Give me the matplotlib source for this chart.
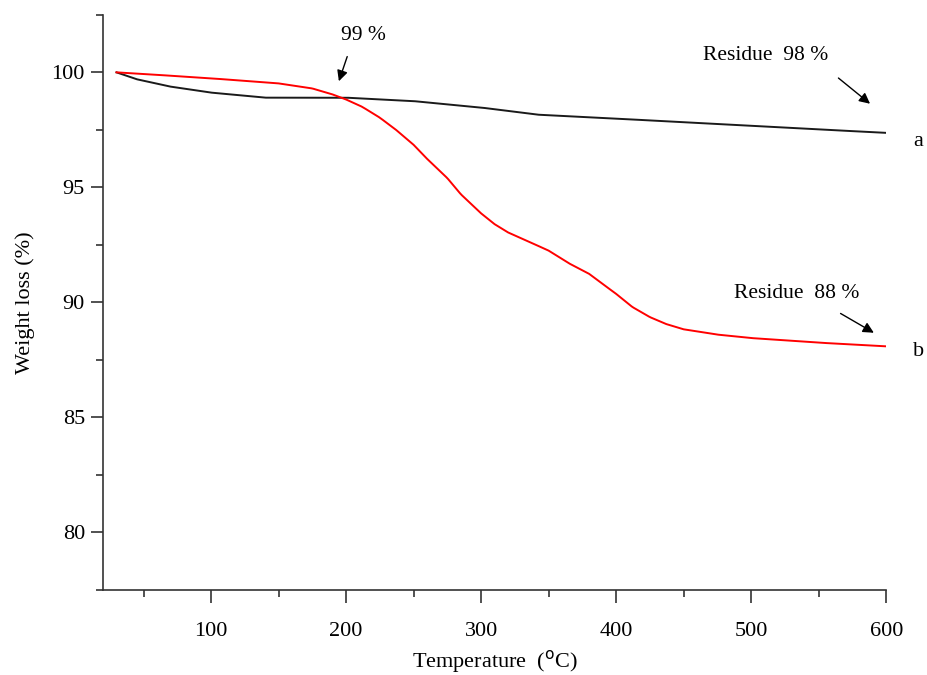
import numpy as np
import matplotlib.pyplot as plt
from matplotlib.ticker import MultipleLocator

plt.rcParams['font.family'] = ['Liberation Serif', 'DejaVu Serif']

# curve a (black)
temp_a = [30, 45, 70, 100, 140, 200, 250, 300, 342, 400, 450, 500, 550, 600]
wt_a = [100.0, 99.7, 99.38, 99.12, 98.9, 98.9, 98.75, 98.47, 98.16, 97.99, 97.83, 97.68, 97.52, 97.37]

# curve b (red)
temp_b = [30, 50, 100, 150, 175, 190, 200, 212, 225, 237, 250, 260, 275, 285, 300, 310, 320, 335, 350,
          365, 380, 390, 400, 412, 425, 437, 450, 475, 500, 550, 600]
wt_b = [100.0, 99.93, 99.74, 99.52, 99.3, 99.04, 98.82, 98.5, 98.03, 97.5, 96.85, 96.24, 95.4, 94.7, 93.87,
        93.4, 93.04, 92.65, 92.25, 91.7, 91.24, 90.8, 90.37, 89.8, 89.36, 89.06, 88.83, 88.6, 88.45, 88.25, 88.09]

fig = plt.figure(figsize=(9.28, 6.75), dpi=100)
ax = fig.add_axes([0.111, 0.126, 0.844, 0.852])

xa = np.linspace(30, 600, 300)
ax.plot(xa, np.interp(xa, temp_a, wt_a), color='#1a1a1a', lw=1.4)
xb = np.linspace(30, 600, 400)
ax.plot(xb, np.interp(xb, temp_b, wt_b), color='red', lw=1.4)

ax.set_xlim(20, 600)
ax.set_ylim(77.5, 102.5)
ax.xaxis.set_major_locator(MultipleLocator(100))
ax.xaxis.set_minor_locator(MultipleLocator(50))
ax.yaxis.set_major_locator(MultipleLocator(5))
ax.yaxis.set_minor_locator(MultipleLocator(2.5))
ax.set_yticks([80, 85, 90, 95, 100])
ax.tick_params(which='major', direction='out', length=9, width=1.2, labelsize=16, color='#333333')
ax.tick_params(which='minor', direction='out', length=5, width=1.2, color='#333333')
ax.tick_params(axis='x', pad=14)
ax.tick_params(axis='y', pad=4)

for s in ['top', 'right']:
    ax.spines[s].set_visible(False)
for s in ['left', 'bottom']:
    ax.spines[s].set_linewidth(1.2)
    ax.spines[s].set_color('#333333')

ax.set_xlabel('Temperature  ($^{\\mathrm{o}}$C)', fontsize=16, labelpad=5)
ax.set_ylabel('Weight loss (%)', fontsize=16, labelpad=12)

arw = dict(arrowstyle='-|>', color='black', lw=1.0, mutation_scale=16)
ax.annotate('', xy=(194, 99.5), xytext=(201.5, 100.8), arrowprops=arw)
ax.text(212.6, 101.6, '99 %', fontsize=15.5, ha='center', va='center')
ax.annotate('', xy=(589.6, 98.56), xytext=(563, 99.83), arrowprops=arw)
ax.text(511, 100.75, 'Residue  98 %', fontsize=15.5, ha='center', va='center')
ax.annotate('', xy=(592.6, 88.62), xytext=(564.4, 89.58), arrowprops=arw)
ax.text(534, 90.37, 'Residue  88 %', fontsize=15.5, ha='center', va='center')
ax.text(624, 97.0, 'a', fontsize=16, ha='center', va='center', clip_on=False)
ax.text(624, 87.88, 'b', fontsize=16, ha='center', va='center', clip_on=False)

fig.savefig('out.png', dpi=100)
